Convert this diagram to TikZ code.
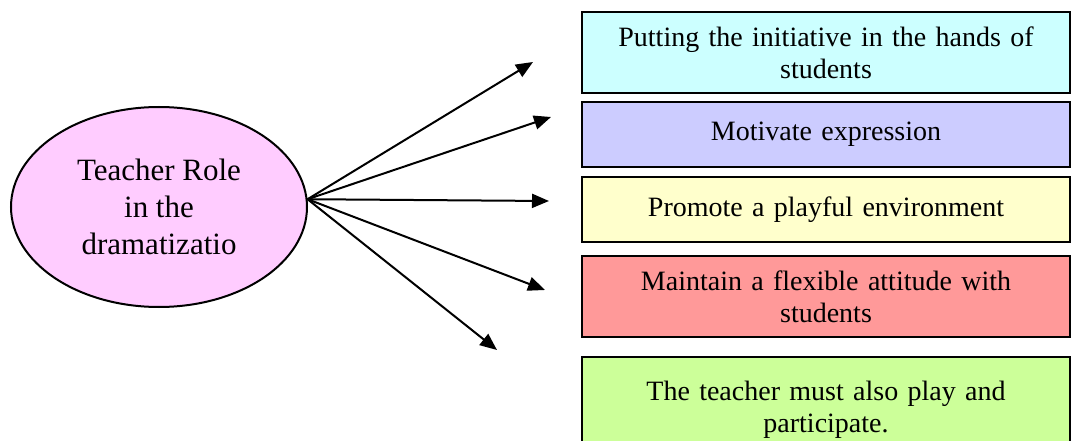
\documentclass[tikz,border=0pt]{standalone}
\usepackage{fontspec}
\setmainfont{Liberation Serif}
\usetikzlibrary{arrows.meta,shapes.geometric}
\definecolor{cA}{HTML}{CCFFFF}
\definecolor{cB}{HTML}{CCCCFF}
\definecolor{cC}{HTML}{FFFFCC}
\definecolor{cD}{HTML}{FF9999}
\definecolor{cE}{HTML}{CCFF99}
\definecolor{cP}{HTML}{FFCCFF}
\tikzset{
  item/.style={draw=black, line width=2.5pt, rectangle, align=center,
    text width=460pt, inner xsep=14pt, inner ysep=0pt,
    font=\fontsize{28}{32}\selectfont},
  link/.style={line width=2pt, -{Triangle[length=17pt,width=14pt]}},
}
\begin{document}
\begin{tikzpicture}[x=1pt,y=-1pt]
\useasboundingbox (0,0) rectangle (1071,441);
\clip (0,0) rectangle (1071,441);
\node[ellipse, draw=black, line width=2pt, fill=cP, minimum width=296pt,
      minimum height=200pt, inner sep=0pt, align=center,
      font=\fontsize{31}{37}\selectfont] (role) at (159,207)
      {Teacher Role\\in the\\dramatizatio};
\node[item, fill=cA, minimum height=81pt] (b1) at (826,52.5)
  {Putting the initiative in the hands of\\students};
\node[item, fill=cB, minimum height=65pt] (b2) at (826,134.5)
  {Motivate expression};
\node[item, fill=cC, minimum height=65pt] (b3) at (826,209.5)
  {Promote a playful environment};
\node[item, fill=cD, minimum height=81pt] (b4) at (826,296.5)
  {Maintain a flexible attitude with\\students};
\node[item, fill=cE, minimum height=106pt] (b5) at (826,410)
  {The teacher must also play and\\participate.};
\coordinate (src) at (role.3);
\coordinate (t1) at (533,62);
\coordinate (t2) at (551,117);
\coordinate (t3) at (549,201);
\coordinate (t4) at (545,290);
\coordinate (t5) at (497,350);
\foreach \t in {t1,t2,t3,t4,t5} \draw[link] (src) -- (\t);
\end{tikzpicture}
\end{document}
